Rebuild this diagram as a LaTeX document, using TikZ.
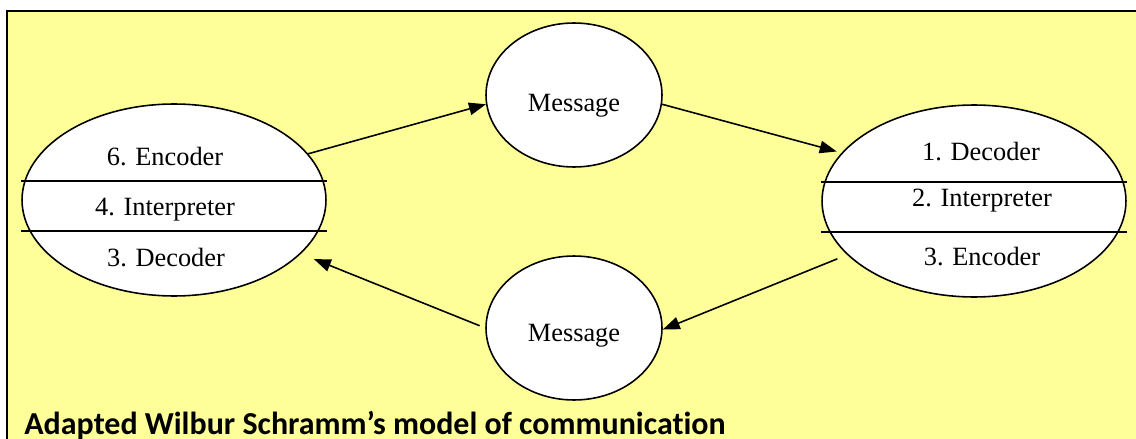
\documentclass[tikz,border=0pt]{standalone}
\usepackage{fontspec}
\setmainfont{Liberation Serif}
\newfontfamily\calibri{Carlito}[Ligatures=NoCommon]
\usetikzlibrary{shapes.geometric,arrows.meta,calc}
\definecolor{notepaper}{HTML}{FFFF99}
\tikzset{
  party/.style={ellipse,draw,fill=white,line width=0.9pt,inner sep=0pt,
    minimum width=6.08cm,minimum height=3.84cm},
  msgnode/.style={ellipse,draw,fill=white,line width=0.9pt,inner sep=0pt,
    minimum width=3.52cm,minimum height=2.88cm},
  role/.style={font=\fontsize{15}{17}\selectfont,inner sep=0pt},
  flow/.style={-{Triangle[length=0.34cm,width=0.25cm]},line width=0.9pt},
  divider/.style={line width=0.9pt},
}
\begin{document}
\begin{tikzpicture}[x=0.02cm,y=-0.02cm]
					\useasboundingbox (0,0) rectangle (1136,439);
					%BACKGROUND
					\fill[notepaper] (7,11) rectangle (1136,439);
					\draw[line width=1.2pt] (1136,11) -- (7,11) -- (7,439);
					%ELLIPSES
					\node[party] (sender) at (174,200) {};
					\node[party] (receiver) at (974,201) {};
					\node[msgnode] (msgtop) at (574,95) {};
					\node[msgnode] (msgbot) at (574,328) {};
					\draw[divider] ([yshift=0.38cm]sender.west) -- ([yshift=0.38cm]sender.east);
					\draw[divider] ([yshift=-0.62cm]sender.west) -- ([yshift=-0.62cm]sender.east);
					\draw[divider] ([yshift=0.38cm]receiver.west) -- ([yshift=0.38cm]receiver.east);
					\draw[divider] ([yshift=-0.62cm]receiver.west) -- ([yshift=-0.62cm]receiver.east);
					%TEXTS
					\node[role] (enc6) at (165,157) {6. Encoder};
					\node[role] (int4) at (165,210) {4. Interpreter};
					\node[role] (dec3) at (166,258) {3. Decoder};
					\node[role] (dec1) at (981,152) {1. Decoder};
					\node[role] (int2) at (982,201) {2. Interpreter};
					\node[role] (enc3) at (982,257) {3. Encoder};
					\node[role] (msgA) at (574,106) {Message};
					\node[role] (msgB) at (574,336) {Message};
					%ARROWS
					\draw[flow] (sender.19) -- (msgtop.186);
					\draw[flow,shorten >=0.1cm] (msgtop.-6) -- (receiver.160);
					\draw[flow,shorten <=0.21cm] (receiver.203) -- (msgbot.-1);
					\draw[flow,shorten <=0.12cm,shorten >=0.28cm] (msgbot.180) -- (sender.-23);
					\node[anchor=base west,inner sep=0pt,font=\calibri\bfseries\fontsize{18.2}{21}\selectfont] (caption) at (24,434) {Adapted Wilbur Schramm’s model of communication};
\end{tikzpicture}
\end{document}
